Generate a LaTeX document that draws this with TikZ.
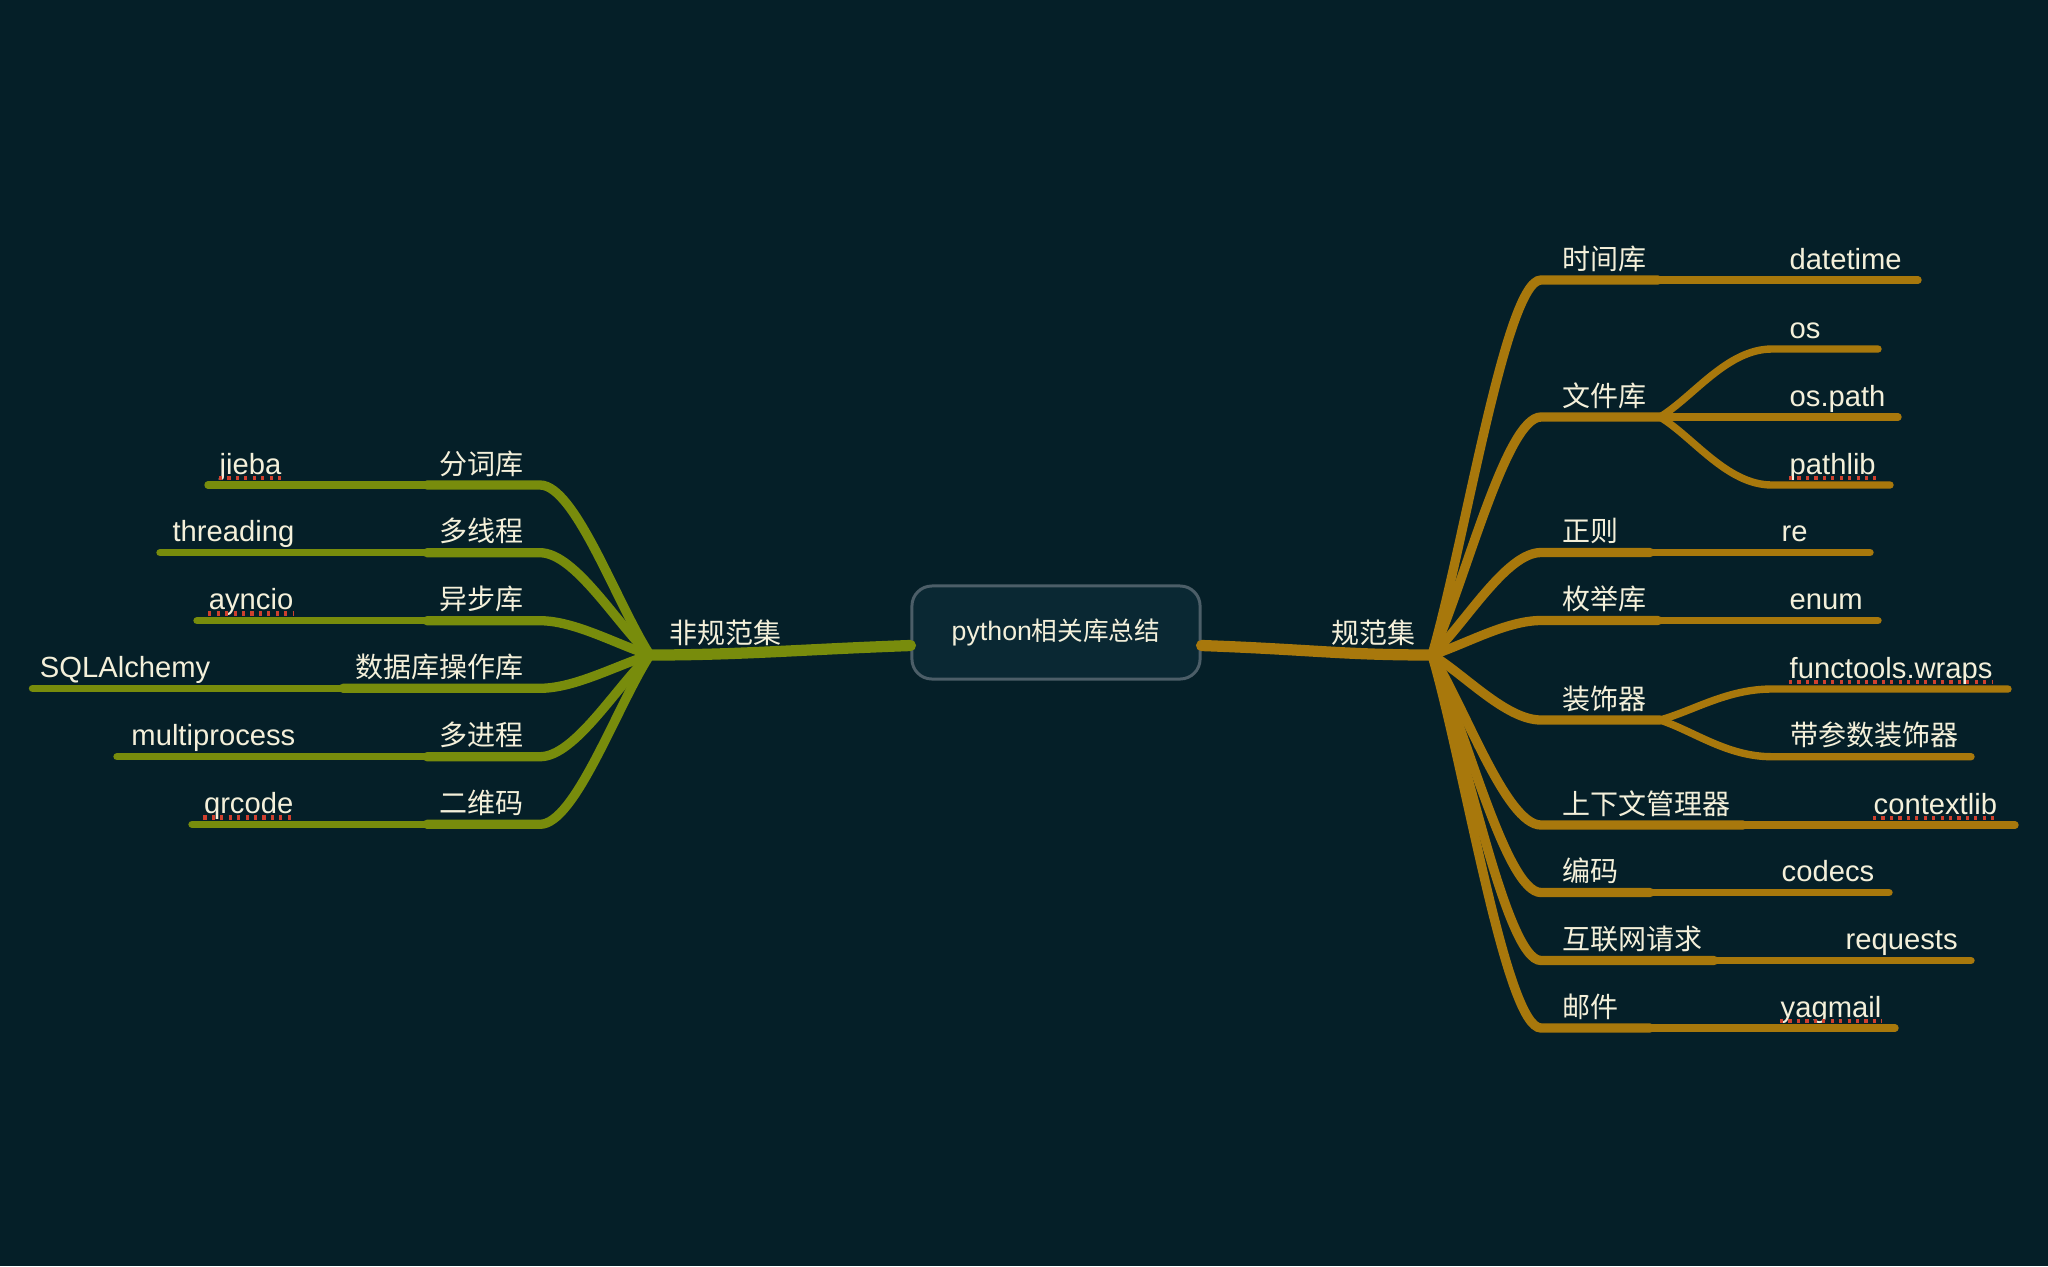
\documentclass[tikz,border=0pt]{standalone}
\usepackage{fontspec}
\setmainfont{Liberation Sans}
\newfontfamily\cjk[Scale=0.96]{Noto Sans CJK SC}
\usepackage{tikz}
\usetikzlibrary{calc}
\definecolor{Grund}{HTML}{051F28}
\definecolor{Kasten}{HTML}{0A2833}
\definecolor{Rahmen}{HTML}{4C5E68}
\definecolor{Schrift}{HTML}{F4F0DA}
\definecolor{Gold}{HTML}{A8780C}
\definecolor{Oliv}{HTML}{788C0C}
\definecolor{Rot}{HTML}{D0402E}
\tikzset{
  Stamm/.style={line width=3.2pt,line cap=round}, % zum Zentrum
  Ast/.style={line width=2.65pt,line cap=round}, % erste Ebene
  Blatt/.style={line width=2.1pt,line cap=round}, % Blaetter
  Rechts/.style={draw=Gold},
  Links/.style={draw=Oliv},
  Thema/.style={inner sep=0pt,text=Schrift},
  Zentrum/.style={draw=Rahmen,fill=Kasten,line width=0.85pt,rounded corners=0.2cm,
    minimum width=2.88cm,minimum height=0.93cm,text=Schrift,
    font=\fontsize{7.6pt}{9pt}\selectfont},
  Wellen/.style={draw=Rot,line width=1.4pt,dash pattern=on 0.9pt off 1.5pt} % Rechtschreibung
}

\begin{document}
\begin{tikzpicture}[
x=0.01cm, y=-0.01cm,
font=\fontsize{8.3pt}{10pt}\selectfont
]
\fill[Grund] (0,0) rectangle (2048,1266);
\useasboundingbox (0,0) rectangle (2048,1266);

%Zentrum
\node[Zentrum] (Z) at (1056,632.5) {python{\cjk 相关库总结}};
\coordinate (RH) at (1432,655);
\coordinate (LH) at (650,655);
\draw[Stamm,Rechts] ($(Z.east)+(0,13)$) .. controls +(110,4) and +(-90,0) .. (RH);
\draw[Stamm,Links] ($(Z.west)+(0,13)$) .. controls +(-110,4) and +(90,0) .. (LH);
\node[Thema,anchor=base east] (Rset) at ($(RH)+(-16,-12)$) {\cjk 规范集};
\node[Thema,anchor=base west] (Lset) at ($(LH)+(19,-12)$) {\cjk 非规范集};

%Aeste rechts
\foreach \n/\y/\e/\txt in {1/280/1658/时间库, 2/417/1660/文件库, 3/552.5/1650/正则,
  4/620.5/1658/枚举库, 5/720/1660/装饰器, 6/825/1743/上下文管理器,
  7/892.5/1650/编码, 8/960.5/1714/互联网请求, 9/1028/1650/邮件}{
  \coordinate (ra\n) at (1541,\y);
  \coordinate (rb\n) at (\e,\y);
  \draw[Ast,Rechts] (RH) .. controls ($(RH)!0.3!(ra\n)$) and ($(ra\n)+(-35,0)$) .. (ra\n) -- (rb\n);
  \node[Thema,anchor=base west] (rt\n) at ($(ra\n)+(21,-11)$) {\cjk\txt};
}

%Aeste links
\foreach \n/\y/\e/\txt in {1/485/427/分词库, 2/552.7/427/多线程, 3/620.7/427/异步库,
  4/688.3/343/数据库操作库, 5/756.7/427/多进程, 6/824.3/427/二维码}{
  \coordinate (la\n) at (540,\y);
  \coordinate (lb\n) at (\e,\y);
  \draw[Ast,Links] (LH) .. controls ($(LH)!0.3!(la\n)$) and ($(la\n)+(35,0)$) .. (la\n) -- (lb\n);
  \node[Thema,anchor=base east] (lt\n) at ($(la\n)+(-16,-11)$) {\cjk\txt};
}

%Blaetter rechts
\foreach \m/\von/\y/\xt/\e/\txt in {datetime/rb1/280/1789/1918/datetime,
  ospath/rb2/417/1789/1898/os.path, re/rb3/552.5/1781/1870/re,
  enum/rb4/620.5/1789/1878/enum, contextlib/rb6/825/1873/2015/contextlib,
  codecs/rb7/892.5/1781/1889/codecs, requests/rb8/960.5/1845/1971/requests,
  yagmail/rb9/1028/1780/1895/yagmail}{
  \node[Thema,anchor=base west] (\m) at (\xt,\y-11) {\txt};
  \coordinate (\m-e) at (\e,\y);
  \draw[Blatt,Rechts] (\von) -- (\m-e);
}
% Verzweigungen
\foreach \m/\von/\y/\xt/\e/\txt in {os/rb2/349/1789/1878/os,
  pathlib/rb2/485/1789/1890/pathlib, wraps/rb5/689/1789/2008/functools.wraps,
  deko/rb5/756.7/1790/1971/{\cjk 带参数装饰器}}{
  \node[Thema,anchor=base west] (\m) at (\xt,\y-11) {\txt};
  \coordinate (\m-k) at (1772,\y);
  \coordinate (\m-e) at (\e,\y);
  \draw[Blatt,Rechts] (\von) .. controls ($(\von)!0.3!(\m-k)$) and ($(\m-k)+(-45,0)$) .. (\m-k) -- (\m-e);
}

%Blaetter links
\foreach \m/\von/\y/\xt/\e/\txt in {jieba/lb1/485/282/208/jieba,
  threading/lb2/552.7/295/160/threading, ayncio/lb3/620.7/294/197/ayncio,
  sqlalchemy/lb4/688.3/211/32.5/SQLAlchemy, multiprocess/lb5/756.7/296/117/multiprocess,
  qrcode/lb6/824.3/294/192/qrcode}{
  \node[Thema,anchor=base east] (\m) at (\xt,\y-11) {\txt};
  \coordinate (\m-e) at (\e,\y);
  \draw[Blatt,Links] (\von) -- (\m-e);
}

%Rechtschreibung
\foreach \m in {pathlib,wraps,contextlib,yagmail,jieba,ayncio,qrcode}
  \draw[Wellen] ($(\m.base west)+(0,4)$) -- ($(\m.base east)+(0,4)$);

\end{tikzpicture}
\end{document}
